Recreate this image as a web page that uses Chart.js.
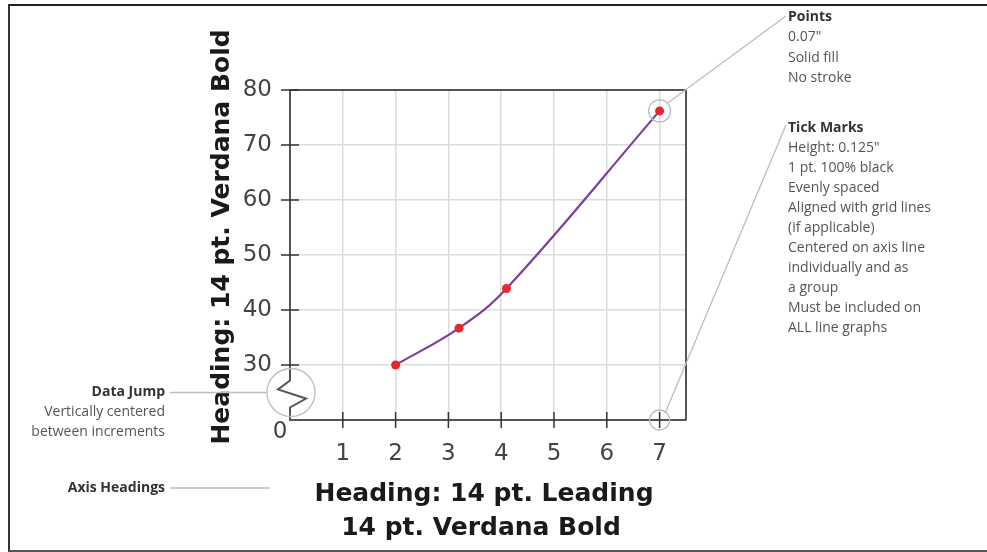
<!DOCTYPE html>
<html>
<head>
<meta charset="utf-8">
<script src="https://cdn.jsdelivr.net/npm/chart.js@4.4.1/dist/chart.umd.min.js"></script>
<style>
html, body { margin: 0; padding: 0; background: #fff; }
#wrap { position: relative; width: 987px; height: 552px; overflow: hidden; }
#frame { position: absolute; left: 8px; top: 4px; right: -4px; height: 544px;
  border-top: 2px solid #222; border-left: 2px solid #333; border-bottom: 2px solid #555; }
canvas { position: absolute; left: 0; top: 0; }
</style>
</head>
<body>
<div id="wrap">
  <div id="frame"></div>
  <canvas id="chart" width="987" height="552"></canvas>
</div>
<script>
// data
const xValues = [2, 3.2, 4.1, 7];
const yValues = [30, 36.7, 43.9, 76.2];
const xTicks = [1, 2, 3, 4, 5, 6, 7];
const yTicks = [20, 30, 40, 50, 60, 70, 80];   // 20 is the slot of the broken-axis "0"
const yTickLabels = ['0', '30', '40', '50', '60', '70', '80'];

const xTitle = ['Heading: 14 pt. Leading', '14 pt. Verdana Bold'];
const yTitle = 'Heading: 14 pt. Verdana Bold';
const pointsNote = ['Points', '0.07"', 'Solid fill', 'No stroke'];
const tickNote = ['Tick Marks', 'Height: 0.125"', '1 pt. 100% black', 'Evenly spaced',
  'Aligned with grid lines', '(if applicable)', 'Centered on axis line',
  'individually and as', 'a group', 'Must be included on', 'ALL line graphs'];
const jumpNote = ['Data Jump', 'Vertically centered', 'between increments'];
const headNote = ['Axis Headings'];

const noteFont = '"Open Sans", sans-serif';
const axisFont = '"DejaVu Sans", Verdana, sans-serif';

function noteBlock(ctx, lines, x, y0, step, align) {
    ctx.textAlign = align;
    ctx.textBaseline = 'middle';
    lines.forEach((t, i) => {
        ctx.font = (i === 0 ? 'bold ' : '') + '14px ' + noteFont;
        ctx.fillStyle = i === 0 ? '#333' : '#555';
        ctx.fillText(t, x, y0 + step * i);
    });
}

function line(ctx, x1, y1, x2, y2) {
    ctx.beginPath();
    ctx.moveTo(x1, y1);
    ctx.lineTo(x2, y2);
    ctx.stroke();
}

function circle(ctx, cx, cy, r) {
    ctx.beginPath();
    ctx.arc(cx, cy, r, 0, Math.PI * 2);
    ctx.stroke();
}

const decor = {
    id: 'decor',
    afterDraw(chart) {
        const { ctx, chartArea: a, scales: { x, y } } = chart;
        ctx.save();

        // top + right frame of the plot
        ctx.strokeStyle = '#555';
        ctx.lineWidth = 2;
        ctx.beginPath();
        ctx.moveTo(a.left, a.top);
        ctx.lineTo(a.right, a.top);
        ctx.lineTo(a.right, a.bottom);
        ctx.stroke();

        // y axis with the data jump zigzag
        const y30 = y.getPixelForValue(30);
        const mid = (y30 + a.bottom) / 2;
        ctx.beginPath();
        ctx.moveTo(a.left, a.top - 1);
        ctx.lineTo(a.left, mid - 12);
        ctx.lineTo(a.left - 12, mid - 3);
        ctx.lineTo(a.left + 16, mid + 6);
        ctx.lineTo(a.left, mid + 15);
        ctx.lineTo(a.left, a.bottom + 1);
        ctx.stroke();

        // tick marks centred on the axis lines
        ctx.strokeStyle = '#333';
        ctx.lineWidth = 1.5;
        xTicks.forEach(v => {
            const px = x.getPixelForValue(v);
            line(ctx, px, a.bottom - 8, px, a.bottom + 8);
        });
        yTicks.slice(1).forEach(v => {
            const py = y.getPixelForValue(v);
            line(ctx, a.left - 9, py, a.left + 9, py);
        });

        // the "0" under the jump
        ctx.fillStyle = '#444';
        ctx.font = '23px ' + axisFont;
        ctx.textAlign = 'center';
        ctx.textBaseline = 'middle';
        ctx.fillText(yTickLabels[0], a.left - 10, a.bottom + 12);

        // axis headings
        ctx.fillStyle = '#1a1a1a';
        ctx.font = 'bold 25px ' + axisFont;
        ctx.fillText(xTitle[0], 484, 494);
        ctx.fillText(xTitle[1], 481, 528);
        ctx.save();
        ctx.translate(222, 237);
        ctx.rotate(-Math.PI / 2);
        ctx.fillText(yTitle, 0, 0);
        ctx.restore();

        // callouts
        ctx.strokeStyle = '#bdbdbd';
        ctx.lineWidth = 1.3;
        const lastX = xValues[xValues.length - 1];
        const px7 = x.getPixelForValue(lastX);
        const py7 = y.getPixelForValue(yValues[yValues.length - 1]);
        circle(ctx, px7, py7, 11);
        line(ctx, px7 + 8, py7 - 8, 786, 16);
        const tx7 = x.getPixelForValue(xTicks[xTicks.length - 1]);
        circle(ctx, tx7, a.bottom, 10);
        line(ctx, tx7 + 6, a.bottom - 8, 786, 125);
        circle(ctx, a.left + 1, mid, 24);
        line(ctx, 170, mid, a.left - 23, mid);
        line(ctx, 170, 488, 270, 488);

        noteBlock(ctx, pointsNote, 788, 17, 20.5, 'left');
        noteBlock(ctx, tickNote, 788, 128, 20, 'left');
        noteBlock(ctx, jumpNote, 165, mid, 20, 'right');
        noteBlock(ctx, headNote, 165, 488, 20, 'right');

        ctx.restore();
    }
};

const ctx = document.getElementById('chart').getContext('2d');
const chart = new Chart(ctx, {
    type: 'scatter',
    data: {
        datasets: [{
            data: xValues.map((v, i) => ({ x: v, y: yValues[i] })),
            showLine: true,
            borderColor: '#7b3f9c',
            borderWidth: 2.2,
            tension: 0.4,
            pointRadius: 4.5,
            pointBackgroundColor: '#e8262b',
            pointBorderWidth: 0
        }]
    },
    options: {
        responsive: false,
        animation: false,
        layout: { padding: { left: 230, top: 90, right: 301, bottom: 82 } },
        plugins: { legend: { display: false }, tooltip: { enabled: false } },
        scales: {
            x: {
                type: 'linear',
                min: 0,
                max: 7.5,
                afterBuildTicks: s => { s.ticks = xTicks.map(v => ({ value: v })); },
                afterFit: s => { s.height = 50; },
                grid: { color: '#dcdcdc', lineWidth: 1.5, drawTicks: false },
                border: { display: true, color: '#555', width: 2 },
                ticks: { padding: 20, color: '#444', font: { family: axisFont, size: 23 } }
            },
            y: {
                type: 'linear',
                min: 20,
                max: 80,
                afterBuildTicks: s => { s.ticks = yTicks.map(v => ({ value: v })); },
                afterFit: s => { s.width = 60; },
                grid: { color: '#dcdcdc', lineWidth: 1.5, drawTicks: false },
                border: { display: false },
                ticks: {
                    padding: 18,
                    color: '#444',
                    font: { family: axisFont, size: 23 },
                    callback: (v, i) => i === 0 ? '' : yTickLabels[i]
                }
            }
        }
    },
    plugins: [decor]
});
</script>
</body>
</html>
